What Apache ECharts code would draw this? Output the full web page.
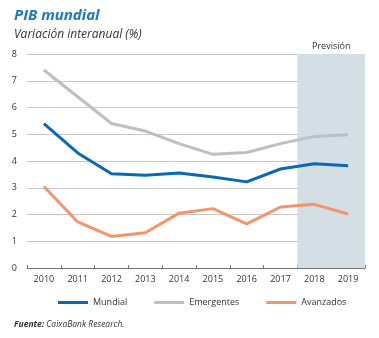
<!DOCTYPE html>
<html><head><meta charset="utf-8">
<script src="https://cdn.jsdelivr.net/npm/echarts@6/dist/echarts.min.js"></script>
<style>html,body{margin:0;padding:0;background:#fff}#c{width:379px;height:338px}</style>
</head><body><div id="c"></div>
<script>
var years = ['2010','2011','2012','2013','2014','2015','2016','2017','2018','2019'];
var mundial = [5.4, 4.3, 3.52, 3.47, 3.55, 3.4, 3.22, 3.7, 3.9, 3.82];
var emergentes = [7.4, 6.4, 5.4, 5.12, 4.65, 4.25, 4.32, 4.65, 4.92, 4.98];
var avanzados = [3.05, 1.72, 1.18, 1.32, 2.05, 2.22, 1.65, 2.28, 2.38, 2.02];
var forecastStart = 8, forecastEnd = 10; // band index range for 2018-2019

var F = '"Open Sans", sans-serif';
var chart = echarts.init(document.getElementById('c'));
chart.setOption({
  animation: false,
  textStyle: {fontFamily: F},
  title: [
    {text: 'PIB mundial', left: 9, top: 3, textStyle: {fontFamily: F, fontSize: 15, fontWeight: 'bold', fontStyle: 'italic', color: '#1b78c3'}},
    {text: 'Variación interanual (%)', left: 9, top: 24, textStyle: {fontFamily: F, fontSize: 12, fontWeight: 'normal', fontStyle: 'italic', color: '#333'}},
    {text: '{b|Fuente:} CaixaBank Research.', left: 9, top: 315, textStyle: {fontFamily: F, fontSize: 8.5, fontStyle: 'italic', fontWeight: 'normal', color: '#333', rich: {b: {fontWeight: 'bold', fontStyle: 'italic', fontSize: 8.5, fontFamily: F, color: '#333'}}}}
  ],
  legend: {
    left: 53, top: 293, itemWidth: 30, itemHeight: 3, itemGap: 27, icon: 'rect',
    textStyle: {fontFamily: F, fontSize: 9, color: '#333'},
    data: ['Mundial', 'Emergentes', 'Avanzados']
  },
  grid: {left: 27, right: 14, top: 54, bottom: 70},
  xAxis: [
    {type: 'category', data: years, boundaryGap: true,
     axisLine: {lineStyle: {color: '#777', width: 1}},
     axisTick: {show: true, inside: true, length: 3, lineStyle: {color: '#777'}},
     axisLabel: {fontSize: 9, color: '#333', margin: 7, fontFamily: F}},
    {type: 'value', min: 0, max: 10, show: false}
  ],
  yAxis: {
    type: 'value', min: 0, max: 8, interval: 1,
    axisLine: {show: false}, axisTick: {show: false},
    axisLabel: {fontSize: 9, color: '#333', margin: 10, fontFamily: F},
    splitLine: {lineStyle: {color: '#c8c8c8', width: 1}}
  },
  series: [
    {type: 'line', name: '_shade', xAxisIndex: 1, data: [], silent: true,
     markArea: {silent: true, itemStyle: {color: '#d4dee5'},
       label: {show: true, position: 'top', color: '#333', fontSize: 9, fontFamily: F, distance: 3},
       data: [[{xAxis: forecastStart, name: 'Previsión'}, {xAxis: forecastEnd}]]}},
    {type: 'line', name: 'Mundial', data: mundial, symbol: 'none', lineStyle: {width: 3, color: '#0a68b4'}, itemStyle: {color: '#0a68b4'}},
    {type: 'line', name: 'Emergentes', data: emergentes, symbol: 'none', lineStyle: {width: 3, color: '#b9c1c6'}, itemStyle: {color: '#b9c1c6'}},
    {type: 'line', name: 'Avanzados', data: avanzados, symbol: 'none', lineStyle: {width: 3, color: '#f3956a'}, itemStyle: {color: '#f3956a'}}
  ]
});
</script></body></html>
